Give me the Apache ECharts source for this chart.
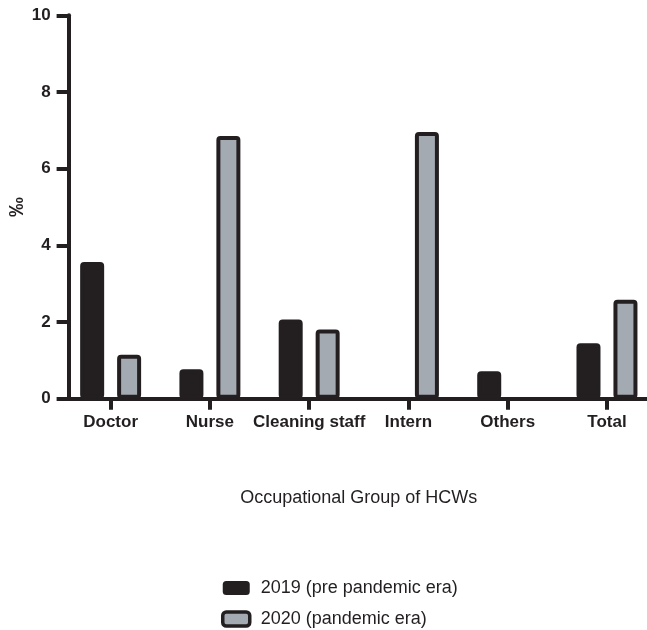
<!DOCTYPE html>
<html>
<head>
<meta charset="utf-8">
<script src="https://cdn.jsdelivr.net/npm/echarts@6/dist/echarts.min.js"></script>
<style>html,body{margin:0;padding:0;background:#fff;}#c{width:647px;height:630px;}</style>
</head>
<body>
<div id="c"></div>
<script>
const categories = ['Doctor', 'Nurse', 'Cleaning staff', 'Intern', 'Others', 'Total'];
const seriesNames = ['2019 (pre pandemic era)', '2020 (pandemic era)'];
const values2019 = [3.57, 0.77, 2.07, 0, 0.72, 1.45];
const values2020 = [1.15, 6.85, 1.81, 6.96, 0, 2.58];
const yTicks = [0, 2, 4, 6, 8, 10];

const DARK = '#231f20';
const GREY = '#a4aab2';
const FONT = '"Liberation Sans", Arial, Helvetica, sans-serif';

// zero values draw no visible bar in the reference
const toBar = v => (v === 0 ? '-' : v);

const chart = echarts.init(document.getElementById('c'), null, {renderer: 'canvas'});
chart.setOption({
  animation: false,
  backgroundColor: '#ffffff',
  textStyle: {fontFamily: FONT},
  grid: {left: 61, top: 15.3, width: 595.6, bottom: 231.2, containLabel: false, outerBoundsMode: 'none'},
  legend: {
    orient: 'vertical',
    left: 221,
    top: 579,
    padding: 0,
    itemWidth: 27,
    itemHeight: 14,
    itemGap: 13,
    textStyle: {fontFamily: FONT, fontSize: 18, color: '#231f20', padding: [0, 0, 0, 6]},
    data: [
      {name: seriesNames[0], icon: 'roundRect', itemStyle: {color: DARK, borderColor: DARK, borderWidth: 0}},
      {name: seriesNames[1], icon: 'roundRect', itemStyle: {color: GREY, borderColor: DARK, borderWidth: 3.5}}
    ]
  },
  xAxis: {
    type: 'category',
    data: categories,
    name: 'Occupational Group of HCWs',
    nameLocation: 'middle',
    nameGap: 90,
    nameTextStyle: {fontFamily: FONT, fontSize: 18, color: '#231f20'},
    axisLine: {lineStyle: {color: DARK, width: 4}},
    axisTick: {show: true, alignWithLabel: true, length: 11, lineStyle: {color: DARK, width: 4}},
    axisLabel: {fontFamily: FONT, fontSize: 17, fontWeight: 'bold', color: '#231f20', margin: 15, interval: 0},
    splitLine: {show: false}
  },
  yAxis: {
    type: 'value',
    min: yTicks[0],
    max: yTicks[yTicks.length - 1],
    interval: yTicks[1] - yTicks[0],
    offset: -7.6,
    name: '‰',
    nameLocation: 'middle',
    nameGap: 51,
    nameMoveOverlap: false,
    nameRotate: 90,
    nameTextStyle: {fontFamily: FONT, fontSize: 20, fontWeight: 'bold', color: '#231f20', verticalAlign: 'middle'},
    axisLine: {show: true, lineStyle: {color: DARK, width: 4}},
    axisTick: {show: true, length: 12, lineStyle: {color: DARK, width: 4}},
    axisLabel: {fontFamily: FONT, fontSize: 17, fontWeight: 'bold', color: '#231f20', margin: 18},
    splitLine: {show: false}
  },
  series: [
    {
      name: seriesNames[0],
      type: 'bar',
      data: values2019.map(toBar),
      barWidth: 24,
      barGap: '54%',
      itemStyle: {color: DARK, borderColor: DARK, borderWidth: 4, borderRadius: 2}
    },
    {
      name: seriesNames[1],
      type: 'bar',
      data: values2020.map(toBar),
      barWidth: 24,
      barGap: '54%',
      itemStyle: {color: GREY, borderColor: DARK, borderWidth: 4, borderRadius: 2}
    }
  ]
});
</script>
</body>
</html>
